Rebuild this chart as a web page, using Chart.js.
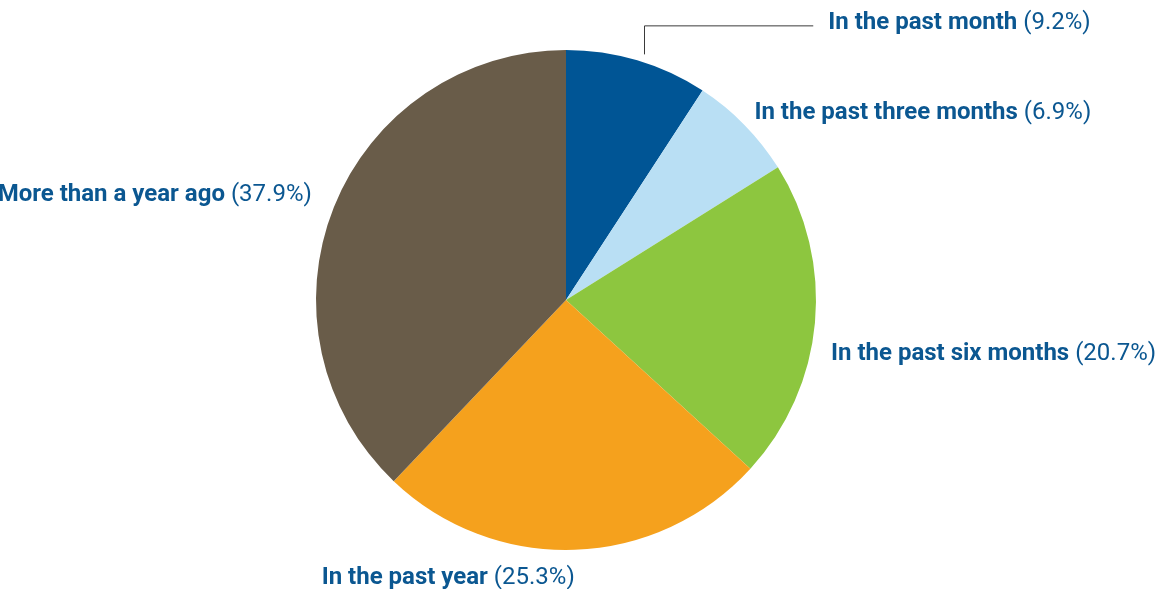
<!DOCTYPE html>
<html>
<head>
<meta charset="utf-8">
<script src="https://cdn.jsdelivr.net/npm/chart.js@4.4.0/dist/chart.umd.min.js"></script>
<style>
  html, body { margin: 0; padding: 0; background: #fff; }
  #wrap { width: 1162px; height: 589px; position: relative; }
</style>
</head>
<body>
<div id="wrap"><canvas id="pie" width="1162" height="589"></canvas></div>
<script>
// Chart data
const categories = ['In the past month', 'In the past three months', 'In the past six months', 'In the past year', 'More than a year ago'];
const shares = [9.2, 6.9, 20.7, 25.3, 37.9];
const sliceColors = ['#005595', '#b9dff4', '#8dc63f', '#f5a11d', '#695c49'];

// label placement relative to the slice's mid point on the rim: [dx, dy, align]
const labelOffsets = [
    [191, -37, 'left'],
    [10, -12, 'left'],
    [16, 31, 'left'],
    [-253, 28, 'left'],
    [-22, -12, 'right']
];

const labelFont = 'Roboto';
const labelSize = 24;
const labelColor = '#0b5791';

// draws "bold name (regular %)" next to each slice
const sliceLabels = {
    id: 'sliceLabels',
    afterDatasetsDraw(chart) {
        const ctx = chart.ctx;
        const meta = chart.getDatasetMeta(0);
        ctx.save();
        ctx.textBaseline = 'middle';
        meta.data.forEach((arc, i) => {
            const mid = (arc.startAngle + arc.endAngle) / 2;
            const rimX = arc.x + Math.cos(mid) * arc.outerRadius;
            const rimY = arc.y + Math.sin(mid) * arc.outerRadius;
            const [dx, dy, align] = labelOffsets[i];
            const x = rimX + dx;
            const y = rimY + dy;

            const bold = categories[i] + ' ';
            const rest = '(' + shares[i].toFixed(1) + '%)';
            ctx.font = `bold ${labelSize}px ${labelFont}`;
            const wBold = ctx.measureText(bold).width;
            ctx.font = `${labelSize}px ${labelFont}`;
            const wRest = ctx.measureText(rest).width;
            const startX = align === 'right' ? x - wBold - wRest : x;

            ctx.fillStyle = labelColor;
            ctx.textAlign = 'left';
            ctx.font = `bold ${labelSize}px ${labelFont}`;
            ctx.fillText(bold, startX, y);
            ctx.font = `${labelSize}px ${labelFont}`;
            ctx.fillText(rest, startX + wBold, y);

            // leader line for the first slice
            if (i === 0) {
                const lx = arc.x + Math.cos(mid + 0.03) * arc.outerRadius;
                ctx.strokeStyle = '#3a3a3a';
                ctx.lineWidth = 1;
                ctx.beginPath();
                ctx.moveTo(Math.round(lx) + 0.5, rimY - 6);
                ctx.lineTo(Math.round(lx) + 0.5, y + 2.5);
                ctx.lineTo(startX - 15, y + 2.5);
                ctx.stroke();
            }
        });
        ctx.restore();
    }
};

new Chart(document.getElementById('pie'), {
    type: 'pie',
    data: {
        labels: categories,
        datasets: [{
            data: shares,
            backgroundColor: sliceColors,
            borderWidth: 0
        }]
    },
    options: {
        responsive: false,
        animation: false,
        layout: { padding: { left: 316, right: 346, top: 50, bottom: 39 } },
        plugins: {
            legend: { display: false },
            tooltip: { enabled: false }
        }
    },
    plugins: [sliceLabels]
});
</script>
</body>
</html>
